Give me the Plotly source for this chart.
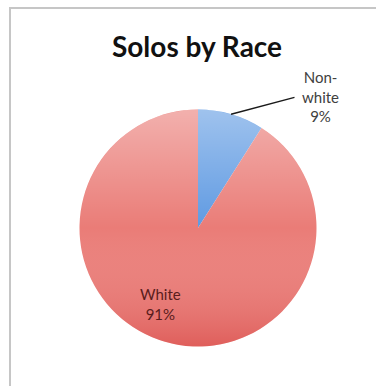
import base64
import math
import plotly.graph_objects as go

# Chart data
categories = ["Non-white", "White"]
values = [9, 91]
label_text = ["Non-<br>white", "White"]
slice_colors = ["#5f9ae2", "#ea7c77"]

W, H = 376, 386
cx, cy, r = 198, 228, 118.5  # pie centre / radius in px


def px_x(x):
    return x / W


def px_y(y):
    return 1 - y / H


total = sum(values)
pct = [round(100 * v / total) for v in values]

fig = go.Figure(
    go.Pie(
        labels=categories,
        values=values,
        sort=False,
        direction="clockwise",
        rotation=0,
        marker=dict(colors=slice_colors, line=dict(width=0)),
        textinfo="none",
        hoverinfo="label+percent",
        showlegend=False,
        domain=dict(x=[px_x(cx - r), px_x(cx + r)], y=[px_y(cy + r), px_y(cy - r)]),
    )
)

# soft vertical shading over the pie
svg = (
    '<svg xmlns="http://www.w3.org/2000/svg" viewBox="0 0 100 100">'
    '<defs><linearGradient id="g" x1="0" y1="0" x2="0" y2="1">'
    '<stop offset="0" stop-color="#ffffff" stop-opacity="0.40"/>'
    '<stop offset="0.5" stop-color="#ffffff" stop-opacity="0"/>'
    '<stop offset="1" stop-color="#c81e1e" stop-opacity="0.32"/>'
    '</linearGradient></defs>'
    '<circle cx="50" cy="50" r="50" fill="url(#g)"/></svg>'
)
src = "data:image/svg+xml;base64," + base64.b64encode(svg.encode()).decode()
fig.add_layout_image(
    source=src, xref="paper", yref="paper",
    x=px_x(cx - r), y=px_y(cy - r), sizex=2 * r / W, sizey=2 * r / H,
    xanchor="left", yanchor="top", sizing="stretch", layer="above",
)

# leader line from the Non-white slice edge (mid-angle of the slice)
mid = math.radians(360 * values[0] / total / 2)
ex, ey = cx + r * math.sin(mid), cy - r * math.cos(mid)
fig.add_annotation(
    x=px_x(ex), y=px_y(ey), xref="paper", yref="paper", text="",
    showarrow=True, arrowhead=0, arrowwidth=1.4, arrowcolor="#1a1a1a",
    ax=296 - ex, ay=97 - ey, standoff=0, startstandoff=0,
)

fig.add_annotation(
    x=px_x(320), y=px_y(96), xref="paper", yref="paper",
    text=f"{label_text[0]}<br>{pct[0]}%", showarrow=False,
    font=dict(family="Lato, sans-serif", size=15, color="#404040"),
    align="center", xanchor="center", yanchor="middle",
)
fig.add_annotation(
    x=px_x(160), y=px_y(304), xref="paper", yref="paper",
    text=f"{label_text[1]}<br>{pct[1]}%", showarrow=False,
    font=dict(family="Lato, sans-serif", size=15, color="#5a1c1c"),
    align="center", xanchor="center", yanchor="middle",
)

# chart frame: only the top and left edges fall inside the view
frame = dict(color="#c6c6c6", width=2)
fig.add_shape(type="line", xref="paper", yref="paper",
              x0=px_x(9), y0=px_y(8), x1=1.0, y1=px_y(8), line=frame)
fig.add_shape(type="line", xref="paper", yref="paper",
              x0=px_x(10), y0=px_y(7), x1=px_x(10), y1=0.0, line=frame)

fig.update_layout(
    width=W, height=H,
    margin=dict(l=0, r=0, t=0, b=0),
    paper_bgcolor="white", plot_bgcolor="white",
    title=dict(
        text="<b>Solos by Race</b>", x=px_x(197), y=px_y(47),
        xanchor="center", yanchor="middle", xref="paper", yref="container",
        font=dict(family="Lato, sans-serif", size=28, color="#111111"),
    ),
)

fig.write_html("out.html")
